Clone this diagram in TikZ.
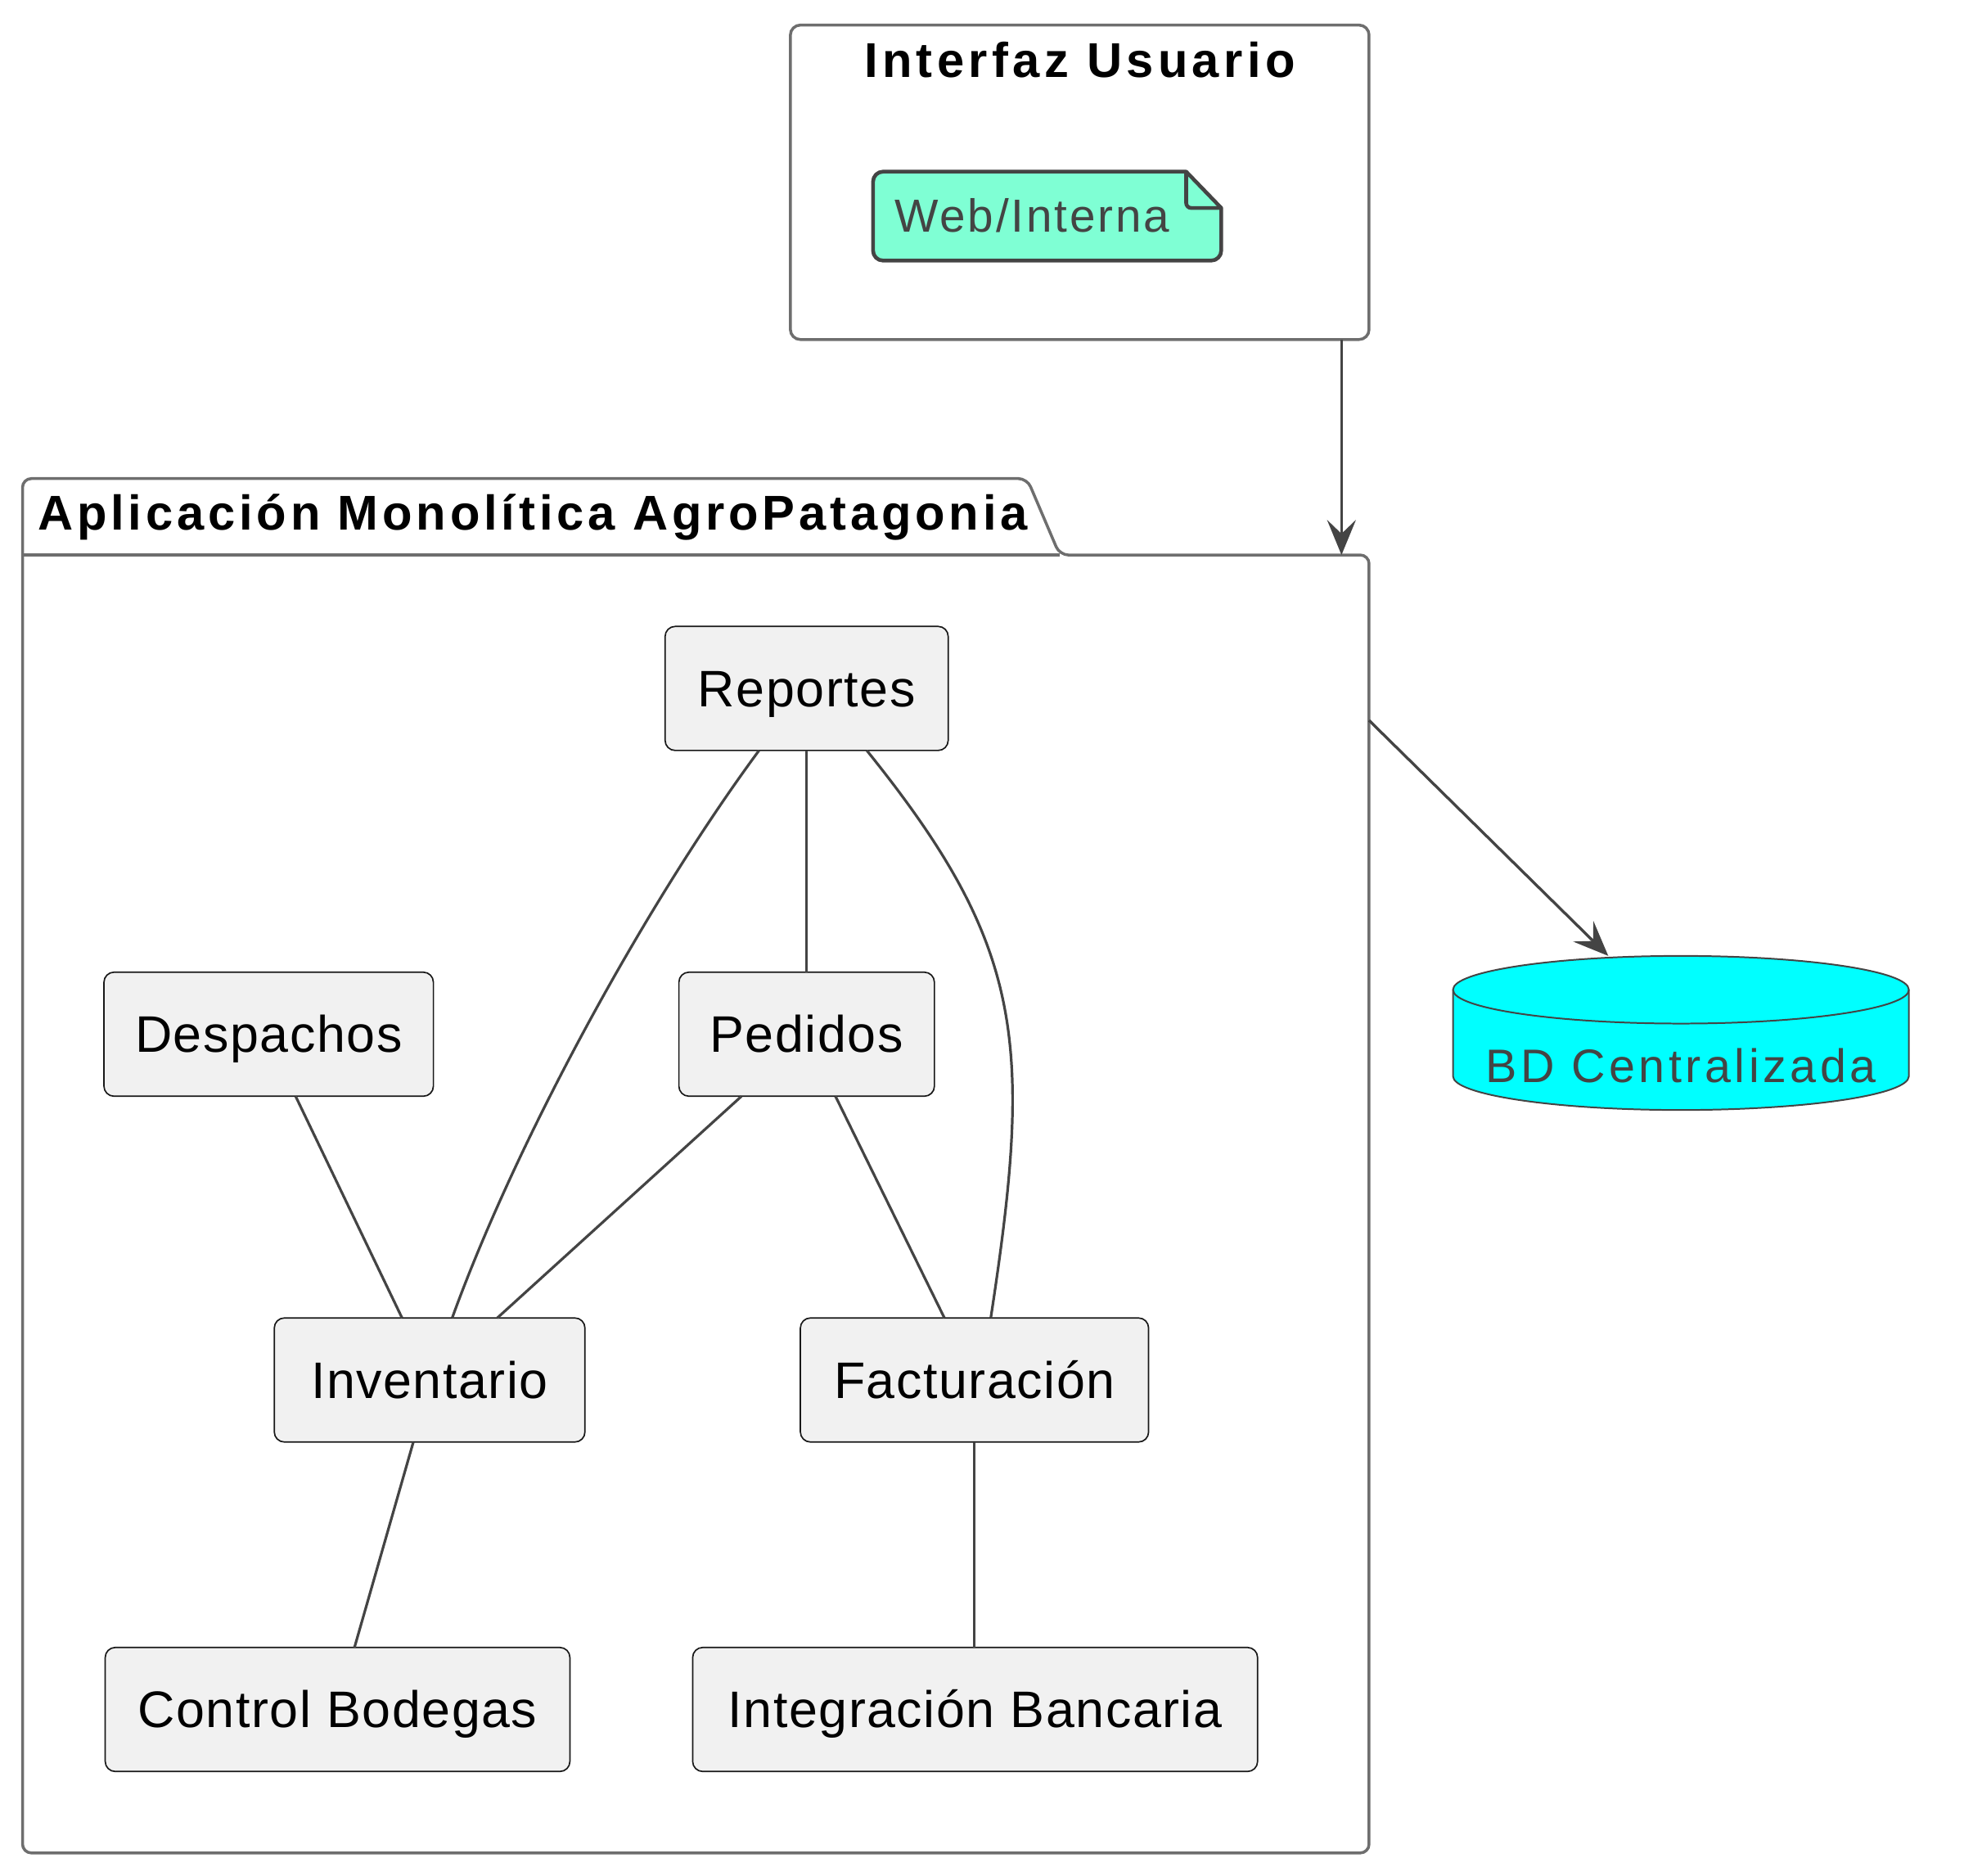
\documentclass[tikz,border=0pt]{standalone}
\usepackage{fontspec}
\setmainfont{Liberation Sans}
\newfontfamily\nodefam[LetterSpace=2.5]{Liberation Sans}
\newfontfamily\titlefam[LetterSpace=9]{Liberation Sans}
\newfontfamily\pkgtitlefam[LetterSpace=8.1]{Liberation Sans}
\newfontfamily\notefam[LetterSpace=5]{Liberation Sans}
\newfontfamily\dbfam[LetterSpace=8]{Liberation Sans}
\usetikzlibrary{arrows.meta}
\definecolor{nodefill}{HTML}{F1F1F1}
\definecolor{nodeborder}{HTML}{181818}
\definecolor{edgecol}{HTML}{444444}
\definecolor{framecol}{HTML}{6E6E6E}
\definecolor{notefill}{HTML}{7FFFD4}
\definecolor{notedraw}{HTML}{444444}
\definecolor{dbfill}{HTML}{00FFFF}
\definecolor{dbdraw}{HTML}{444444}
\definecolor{softtext}{HTML}{444444}
\begin{document}
\begin{tikzpicture}[x=1pt,y=-1pt,
  comp/.style={draw=nodeborder, fill=nodefill, line width=1.1pt, rounded corners=8pt,
    inner sep=0pt, outer sep=0pt, text height=29.3pt, text depth=0pt, minimum height=99pt,
    font=\nodefam\fontsize{41}{49}\selectfont},
  link/.style={draw=edgecol, line width=2.1pt},
  flow/.style={draw=edgecol, line width=2.2pt, -{Stealth[length=28pt,width=23pt,inset=11pt]}},
  frame/.style={draw=framecol, line width=2.3pt},
  title/.style={font=\titlefam\bfseries\fontsize{39}{47}\selectfont, inner sep=0pt},
  pkgtitle/.style={font=\pkgtitlefam\bfseries\fontsize{39}{47}\selectfont, inner sep=0pt},
]
\useasboundingbox (0,0) rectangle (1568,1497);

% Interfaz Usuario
\node[frame, rounded corners=8pt, minimum width=462pt, minimum height=251pt,
  anchor=north west, inner sep=0pt, outer sep=0pt] (ui) at (631,20) {};
\node[title, anchor=base] (uititle) at (862,61.6) {Interfaz Usuario};

% note
\filldraw[fill=notefill, draw=notedraw, line width=3pt, line join=round]
  (975,166) -- (947,137) [rounded corners=8pt] -- (697,137) -- (697,208) -- (975,208) [sharp corners] -- cycle;
\draw[draw=notedraw, line width=3pt, rounded corners=4pt] (947,137) -- (947,166) -- (975,166);
\node[anchor=base west, inner sep=0pt, text=softtext, font=\notefam\fontsize{37}{44}\selectfont]
  (web) at (714,185) {Web/Interna};

% package
\draw[frame, rounded corners=7pt] (18,900) -- (18,382) -- (820,382) -- (846,443) -- (1093,443)
  -- (1093,1479) -- (18,1479) -- cycle;
\draw[frame] (18,443) -- (846,443);
\node[pkgtitle, anchor=base west] (pkgtitle) at (30,422.7) {Aplicación Monolítica AgroPatagonia};
\node[minimum width=1075pt, minimum height=1036pt, inner sep=0pt, outer sep=0pt, anchor=north west] (pkg) at (18,443) {};

% components
\node[comp, minimum width=226pt] (rep) at (644,549.5) {Reportes};
\node[comp, minimum width=263pt] (des) at (214.5,825.5) {Despachos};
\node[comp, minimum width=204pt] (ped) at (644,825.5) {Pedidos};
\node[comp, minimum width=248pt] (inv) at (343,1101.5) {Inventario};
\node[comp, minimum width=278pt] (fac) at (778,1101.5) {Facturación};
\node[comp, minimum width=371pt] (ctl) at (269.5,1364.5) {Control Bodegas};
\node[comp, minimum width=451pt] (ban) at (778.5,1364.5) {Integración Bancaria};

% links
\draw[link] ([xshift=-38pt]rep.south) .. controls (516.7,719.8) and (412.7,909) .. ([xshift=18pt]inv.north);
\draw[link] (rep.south) -- (ped.north);
\draw[link] ([xshift=48pt]rep.south) .. controls (818.3,755.8) and (824.7,832.2) .. ([xshift=13pt]fac.north);
\draw[link] ([xshift=21.5pt]des.south) -- ([xshift=-22pt]inv.north);
\draw[link] ([xshift=-52pt]ped.south) -- ([xshift=54pt]inv.north);
\draw[link] ([xshift=23pt]ped.south) -- ([xshift=-24pt]fac.north);
\draw[link] ([xshift=-13pt]inv.south) -- ([xshift=13.5pt]ctl.north);
\draw[link] (fac.south) -- ([xshift=-0.5pt]ban.north);

% database
\node[minimum width=364pt, minimum height=123pt, inner sep=0pt, outer sep=0pt, anchor=north west] (db) at (1160,763) {};
\filldraw[fill=dbfill, draw=dbdraw, line width=1.3pt]
  (1160,790) -- (1160,859) arc[start angle=180, end angle=0, x radius=182, y radius=27]
  -- (1524,790) arc[start angle=0, end angle=-180, x radius=182, y radius=27] -- cycle;
\draw[draw=dbdraw, line width=1.3pt] (1160,790) arc[start angle=180, end angle=0, x radius=182, y radius=27];
\node[anchor=base, inner sep=0pt, text=softtext, font=\dbfam\fontsize{37.5}{45}\selectfont]
  (dbtext) at (1342,864) {BD Centralizada};

% arrows
\draw[flow] ([xshift=-22pt]ui.south east) -- ([xshift=-22pt]pkg.north east);
\draw[flow] ([yshift=-132pt]pkg.north east) -- ([xshift=-58pt]db.north);
\end{tikzpicture}
\end{document}
